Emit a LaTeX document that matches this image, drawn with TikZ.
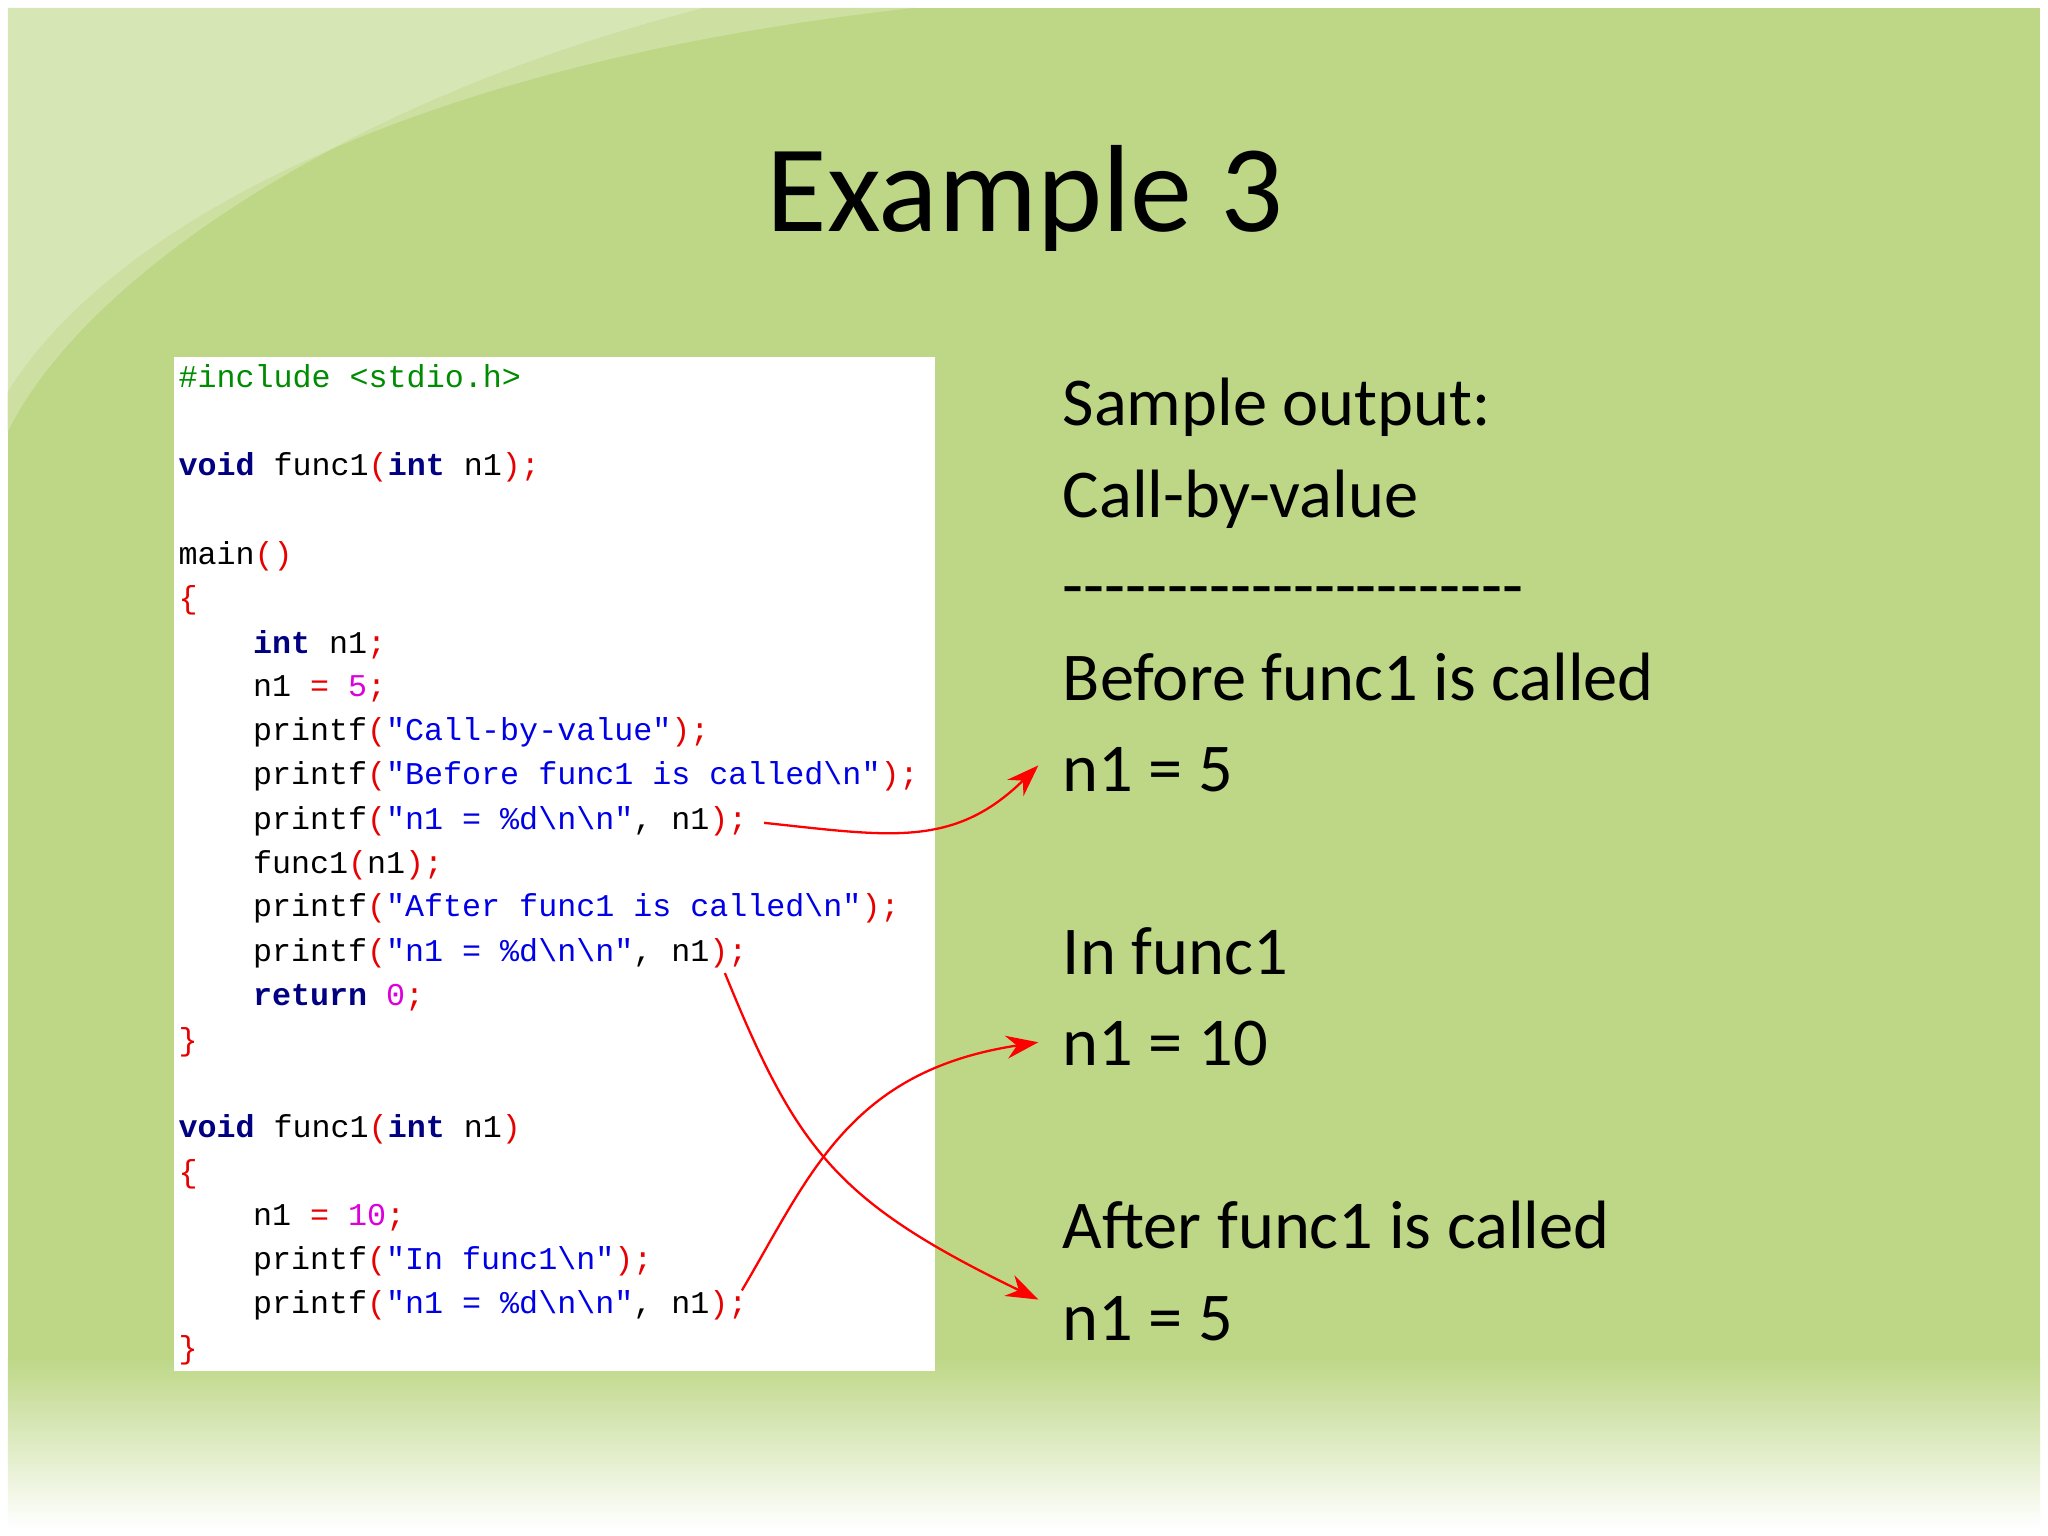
\documentclass[tikz,border=0pt]{standalone}
\usepackage{fontspec}
\setmainfont{Carlito}
\setmonofont{Liberation Mono}
\usetikzlibrary{arrows.meta}
\definecolor{bg}{RGB}{190,215,135}
\definecolor{bgl}{RGB}{214,230,180}
\definecolor{kwc}{RGB}{0,0,128}
\definecolor{puc}{RGB}{230,0,0}
\definecolor{stc}{RGB}{0,0,230}
\definecolor{nmc}{RGB}{220,0,220}
\definecolor{inc}{RGB}{0,140,0}
\newcommand{\kw}[1]{\textcolor{kwc}{\bfseries #1}}
\newcommand{\pu}[1]{\textcolor{puc}{#1}}
\newcommand{\st}[1]{\textcolor{stc}{#1}}
\newcommand{\nm}[1]{\textcolor{nmc}{#1}}
\tikzset{
 code/.style={anchor=base west,inner sep=0pt,font=\fontsize{6.9}{7}\ttfamily},
 outtext/.style={anchor=base west,inner sep=0pt,font=\fontsize{14.9}{16}\selectfont},
 arr/.style={draw=red,line width=0.5pt,-{Stealth[length=7pt,width=5pt]}}
}
\begin{document}
\begin{tikzpicture}[x=0.01cm,y=-0.01cm]
\useasboundingbox (0,0) rectangle (1568,1176);
\fill[white] (0,0) rectangle (1568,1176);
\fill[bg] (6,6) rectangle (1562,1170);
\fill[bgl] (6,6) -- (540,6) .. controls (250,80) and (60,220) .. (6,330) -- cycle;
\fill[bgl!60!bg] (540,6) .. controls (250,80) and (60,220) .. (6,330) -- (6,300) .. controls (80,180) and (300,50) .. (700,6) -- cycle;
\fill[top color=bg,bottom color=white] (6,1040) rectangle (1562,1170);
\node[inner sep=0pt,font=\fontsize{27}{30}\selectfont] (title) at (785,152) {Example 3};
\fill[white] (133,273) rectangle (716,1050);
\node[code] (l1) at (136,297) {\textcolor{inc}{\#include <stdio.h>}};
\node[code] (l2) at (136,364) {\kw{void} func1\pu{(}\kw{int} n1\pu{);}};
\node[code] (l3) at (136,432) {main\pu{()}};
\node[code] (l4) at (136,466) {\pu{\{}};
\node[code] (l5) at (193,500) {\kw{int} n1\pu{;}};
\node[code] (l6) at (193,533) {n1 \pu{=} \nm{5}\pu{;}};
\node[code] (l7) at (193,567) {printf\pu{(}\st{"Call-by-value"}\pu{);}};
\node[code] (l8) at (193,601) {printf\pu{(}\st{"Before func1 is called\textbackslash n"}\pu{);}};
\node[code] (l9) at (193,635) {printf\pu{(}\st{"n1 = \%d\textbackslash n\textbackslash n"}, n1\pu{);}};
\node[code] (l10) at (193,669) {func1\pu{(}n1\pu{);}};
\node[code] (l11) at (193,702) {printf\pu{(}\st{"After func1 is called\textbackslash n"}\pu{);}};
\node[code] (l12) at (193,736) {printf\pu{(}\st{"n1 = \%d\textbackslash n\textbackslash n"}, n1\pu{);}};
\node[code] (l13) at (193,770) {\kw{return} \nm{0}\pu{;}};
\node[code] (l14) at (136,804) {\pu{\}}};
\node[code] (l15) at (136,871) {\kw{void} func1\pu{(}\kw{int} n1\pu{)}};
\node[code] (l16) at (136,905) {\pu{\{}};
\node[code] (l17) at (193,938) {n1 \pu{=} \nm{10}\pu{;}};
\node[code] (l18) at (193,972) {printf\pu{(}\st{"In func1\textbackslash n"}\pu{);}};
\node[code] (l19) at (193,1006) {printf\pu{(}\st{"n1 = \%d\textbackslash n\textbackslash n"}, n1\pu{);}};
\node[code] (l20) at (136,1040) {\pu{\}}};
\node[outtext] (o1) at (813,326) {Sample output:};
\node[outtext] (o2) at (813,396) {Call-by-value};
\node[outtext] (o3) at (813,466) {{-}{-}{-}{-}{-}{-}{-}{-}{-}{-}{-}{-}{-}{-}{-}{-}{-}{-}{-}{-}{-}{-}};
\node[outtext] (o4) at (813,536) {Before func1 is called};
\node[outtext] (o5) at (813,606) {n1 = 5};
\node[outtext] (o6) at (813,746) {In func1};
\node[outtext] (o7) at (813,816) {n1 = 10};
\node[outtext] (o8) at (813,956) {After func1 is called};
\node[outtext] (o9) at (813,1026) {n1 = 5};
\coordinate (s1) at (585,630);
\coordinate (s2) at (555,745);
\coordinate (s3) at (568,988);
\coordinate (e1) at (795,586);
\coordinate (e2) at (795,995);
\coordinate (e3) at (795,798);
\draw[arr] (s1) .. controls (680,640) and (730,650) .. (e1);
\draw[arr] (s2) .. controls (610,880) and (640,920) .. (e2);
\draw[arr] (s3) .. controls (620,900) and (650,820) .. (e3);
\end{tikzpicture}
\end{document}
